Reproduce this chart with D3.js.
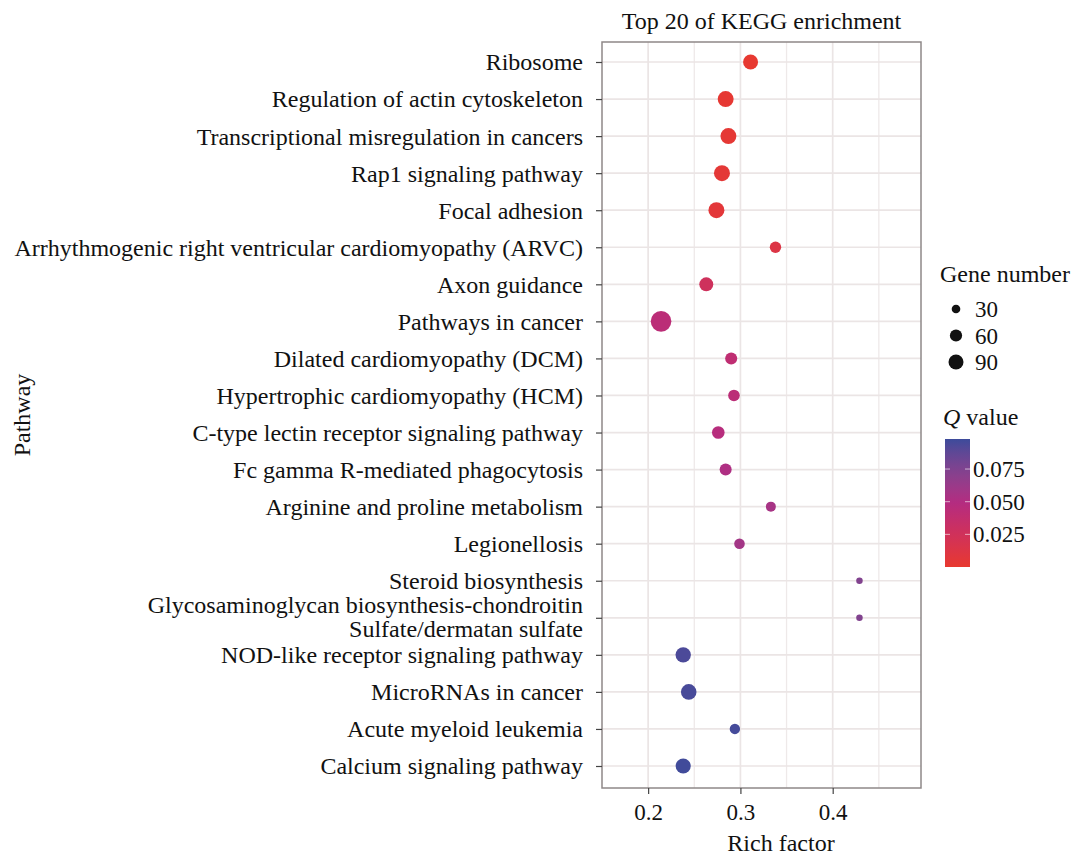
<!DOCTYPE html>
<html>
<head>
<meta charset="utf-8">
<script src="https://cdn.jsdelivr.net/npm/d3@7"></script>
<style>
  body { margin: 0; background: #fff; }
  text { font-family: "Liberation Serif", "Times New Roman", serif; fill: #111; }
</style>
</head>
<body>
<svg id="chart"></svg>
<script>
// pathways, top to bottom
var pathways = [
  "Ribosome",
  "Regulation of actin cytoskeleton",
  "Transcriptional misregulation in cancers",
  "Rap1 signaling pathway",
  "Focal adhesion",
  "Arrhythmogenic right ventricular cardiomyopathy (ARVC)",
  "Axon guidance",
  "Pathways in cancer",
  "Dilated cardiomyopathy (DCM)",
  "Hypertrophic cardiomyopathy (HCM)",
  "C-type lectin receptor signaling pathway",
  "Fc gamma R-mediated phagocytosis",
  "Arginine and proline metabolism",
  "Legionellosis",
  "Steroid biosynthesis",
  "Glycosaminoglycan biosynthesis-chondroitin\nSulfate/dermatan sulfate",
  "NOD-like receptor signaling pathway",
  "MicroRNAs in cancer",
  "Acute myeloid leukemia",
  "Calcium signaling pathway"
];
var richFactor = [0.311, 0.284, 0.287, 0.280, 0.274, 0.338, 0.263, 0.214, 0.290, 0.293,
                  0.276, 0.284, 0.333, 0.299, 0.429, 0.429, 0.238, 0.244, 0.294, 0.238];
var geneNumber = [90, 102, 102, 102, 102, 52, 78, 170, 58, 54,
                  64, 58, 40, 45, 17, 17, 95, 97, 43, 92];
var qValue = [0.001, 0.002, 0.003, 0.004, 0.005, 0.012, 0.026, 0.043, 0.040, 0.043,
              0.047, 0.052, 0.056, 0.058, 0.074, 0.074, 0.094, 0.095, 0.096, 0.097];

var xMajor = [0.2, 0.3, 0.4];
var xMinor = [0.25, 0.35, 0.45];
var sizeBreaks = [30, 60, 90];
var qBreaks = [0.025, 0.050, 0.075];

var width = 1075, height = 856;
var panel = {left: 602, right: 921, top: 42, bottom: 788};

var svg = d3.select("#chart")
    .attr("width", width)
    .attr("height", height);

var x = d3.scaleLinear()
    .domain([0.15, 0.4957])
    .range([panel.left, panel.right]);

var y = d3.scalePoint()
    .domain(pathways)
    .range([62, 766]);

var r = d3.scaleSqrt()
    .domain([0, 90])
    .range([0, 7.5]);

var color = d3.scaleLinear()
    .domain([0, 0.05, 0.098])
    .range(["#e8392f", "#b32c82", "#3d4b9b"])
    .interpolate(d3.interpolateLab);

// grid
var grid = svg.append("g");
grid.selectAll(".vminor")
    .data(xMinor)
    .enter()
    .append("line")
    .attr("x1", function (d) { return x(d); })
    .attr("x2", function (d) { return x(d); })
    .attr("y1", panel.top)
    .attr("y2", panel.bottom)
    .attr("stroke", "#eee9e9")
    .attr("stroke-width", 1.3);
grid.selectAll(".vmajor")
    .data(xMajor)
    .enter()
    .append("line")
    .attr("x1", function (d) { return x(d); })
    .attr("x2", function (d) { return x(d); })
    .attr("y1", panel.top)
    .attr("y2", panel.bottom)
    .attr("stroke", "#ebe5e5")
    .attr("stroke-width", 1.7);
grid.selectAll(".hmajor")
    .data(pathways)
    .enter()
    .append("line")
    .attr("x1", panel.left)
    .attr("x2", panel.right)
    .attr("y1", function (d) { return y(d); })
    .attr("y2", function (d) { return y(d); })
    .attr("stroke", "#ebe5e5")
    .attr("stroke-width", 1.7);

// points
svg.append("g")
    .selectAll("circle")
    .data(pathways)
    .enter()
    .append("circle")
    .attr("cx", function (d, i) { return x(richFactor[i]); })
    .attr("cy", function (d) { return y(d); })
    .attr("r", function (d, i) { return r(geneNumber[i]); })
    .attr("fill", function (d, i) { return color(qValue[i]); });

// panel border
svg.append("rect")
    .attr("x", panel.left)
    .attr("y", panel.top)
    .attr("width", panel.right - panel.left)
    .attr("height", panel.bottom - panel.top)
    .attr("fill", "none")
    .attr("stroke", "#8e8888")
    .attr("stroke-width", 1.5);

// axes
var yAxis = d3.axisLeft(y).tickSize(6).tickPadding(13).tickFormat("");
var gy = svg.append("g")
    .attr("transform", "translate(" + panel.left + ",0)")
    .call(yAxis);
gy.select(".domain").remove();
gy.selectAll(".tick line").attr("stroke", "#444").attr("stroke-width", 1.2);

var yLabels = svg.append("g")
    .selectAll("text")
    .data(pathways)
    .enter()
    .append("text")
    .attr("text-anchor", "end")
    .attr("x", 583)
    .attr("y", function (d) { return y(d); })
    .style("font-size", "24px");
yLabels.each(function (d) {
    var lines = d.split("\n");
    var t = d3.select(this);
    lines.forEach(function (line, k) {
        t.append("tspan")
            .attr("x", 583)
            .attr("dy", k === 0 ? (0.35 - (lines.length - 1) * 0.54) + "em" : "1.0em")
            .text(line);
    });
});

var xAxis = d3.axisBottom(x).tickValues(xMajor).tickSize(6).tickPadding(10)
    .tickFormat(d3.format(".1f"));
var gx = svg.append("g")
    .attr("transform", "translate(0," + panel.bottom + ")")
    .call(xAxis);
gx.select(".domain").remove();
gx.selectAll(".tick line").attr("stroke", "#444").attr("stroke-width", 1.2);
gx.selectAll(".tick text")
    .style("font-family", "Liberation Serif, serif")
    .style("font-size", "23px")
    .attr("fill", "#111");

// titles
svg.append("text")
    .attr("x", (panel.left + panel.right) / 2)
    .attr("y", 29)
    .attr("text-anchor", "middle")
    .style("font-size", "24px")
    .text("Top 20 of KEGG enrichment");

svg.append("text")
    .attr("x", 781)
    .attr("y", 851)
    .attr("text-anchor", "middle")
    .style("font-size", "24px")
    .text("Rich factor");

svg.append("text")
    .attr("transform", "translate(30," + (panel.top + panel.bottom) / 2 + ")rotate(-90)")
    .attr("text-anchor", "middle")
    .style("font-size", "24px")
    .text("Pathway");

// size legend
svg.append("text")
    .attr("x", 940)
    .attr("y", 282)
    .style("font-size", "24px")
    .text("Gene number");

var sizeLeg = svg.append("g")
    .selectAll("g")
    .data(sizeBreaks)
    .enter()
    .append("g")
    .attr("transform", function (d, i) { return "translate(956," + (309 + i * 26.5) + ")"; });
sizeLeg.append("circle")
    .attr("r", function (d) { return r(d); })
    .attr("fill", "#111");
sizeLeg.append("text")
    .attr("x", 19)
    .attr("dy", "0.35em")
    .style("font-size", "23px")
    .text(function (d) { return d; });

// colour legend
var qTitle = svg.append("text")
    .attr("x", 943)
    .attr("y", 425)
    .style("font-size", "24px");
qTitle.append("tspan").style("font-style", "italic").text("Q");
qTitle.append("tspan").text(" value");

var defs = svg.append("defs");
var grad = defs.append("linearGradient")
    .attr("id", "qgrad")
    .attr("x1", "0").attr("y1", "1")
    .attr("x2", "0").attr("y2", "0");
d3.range(0, 1.0001, 0.1).forEach(function (t) {
    grad.append("stop")
        .attr("offset", t)
        .attr("stop-color", color(t * 0.098));
});

var qy = d3.scaleLinear()
    .domain([0, 0.098])
    .range([567, 439]);

svg.append("rect")
    .attr("x", 945)
    .attr("y", qy(0.098))
    .attr("width", 25)
    .attr("height", qy(0) - qy(0.098))
    .attr("fill", "url(#qgrad)");

var qTicks = svg.append("g")
    .selectAll("g")
    .data(qBreaks)
    .enter()
    .append("g")
    .attr("transform", function (d) { return "translate(0," + qy(d) + ")"; });
qTicks.append("line")
    .attr("x1", 945).attr("x2", 950)
    .attr("stroke", "#fff").attr("stroke-opacity", 0.6).attr("stroke-width", 1);
qTicks.append("line")
    .attr("x1", 965).attr("x2", 970)
    .attr("stroke", "#fff").attr("stroke-opacity", 0.6).attr("stroke-width", 1);
qTicks.append("text")
    .attr("x", 973)
    .attr("dy", "0.35em")
    .style("font-size", "23px")
    .text(function (d) { return d3.format(".3f")(d); });
</script>
</body>
</html>
